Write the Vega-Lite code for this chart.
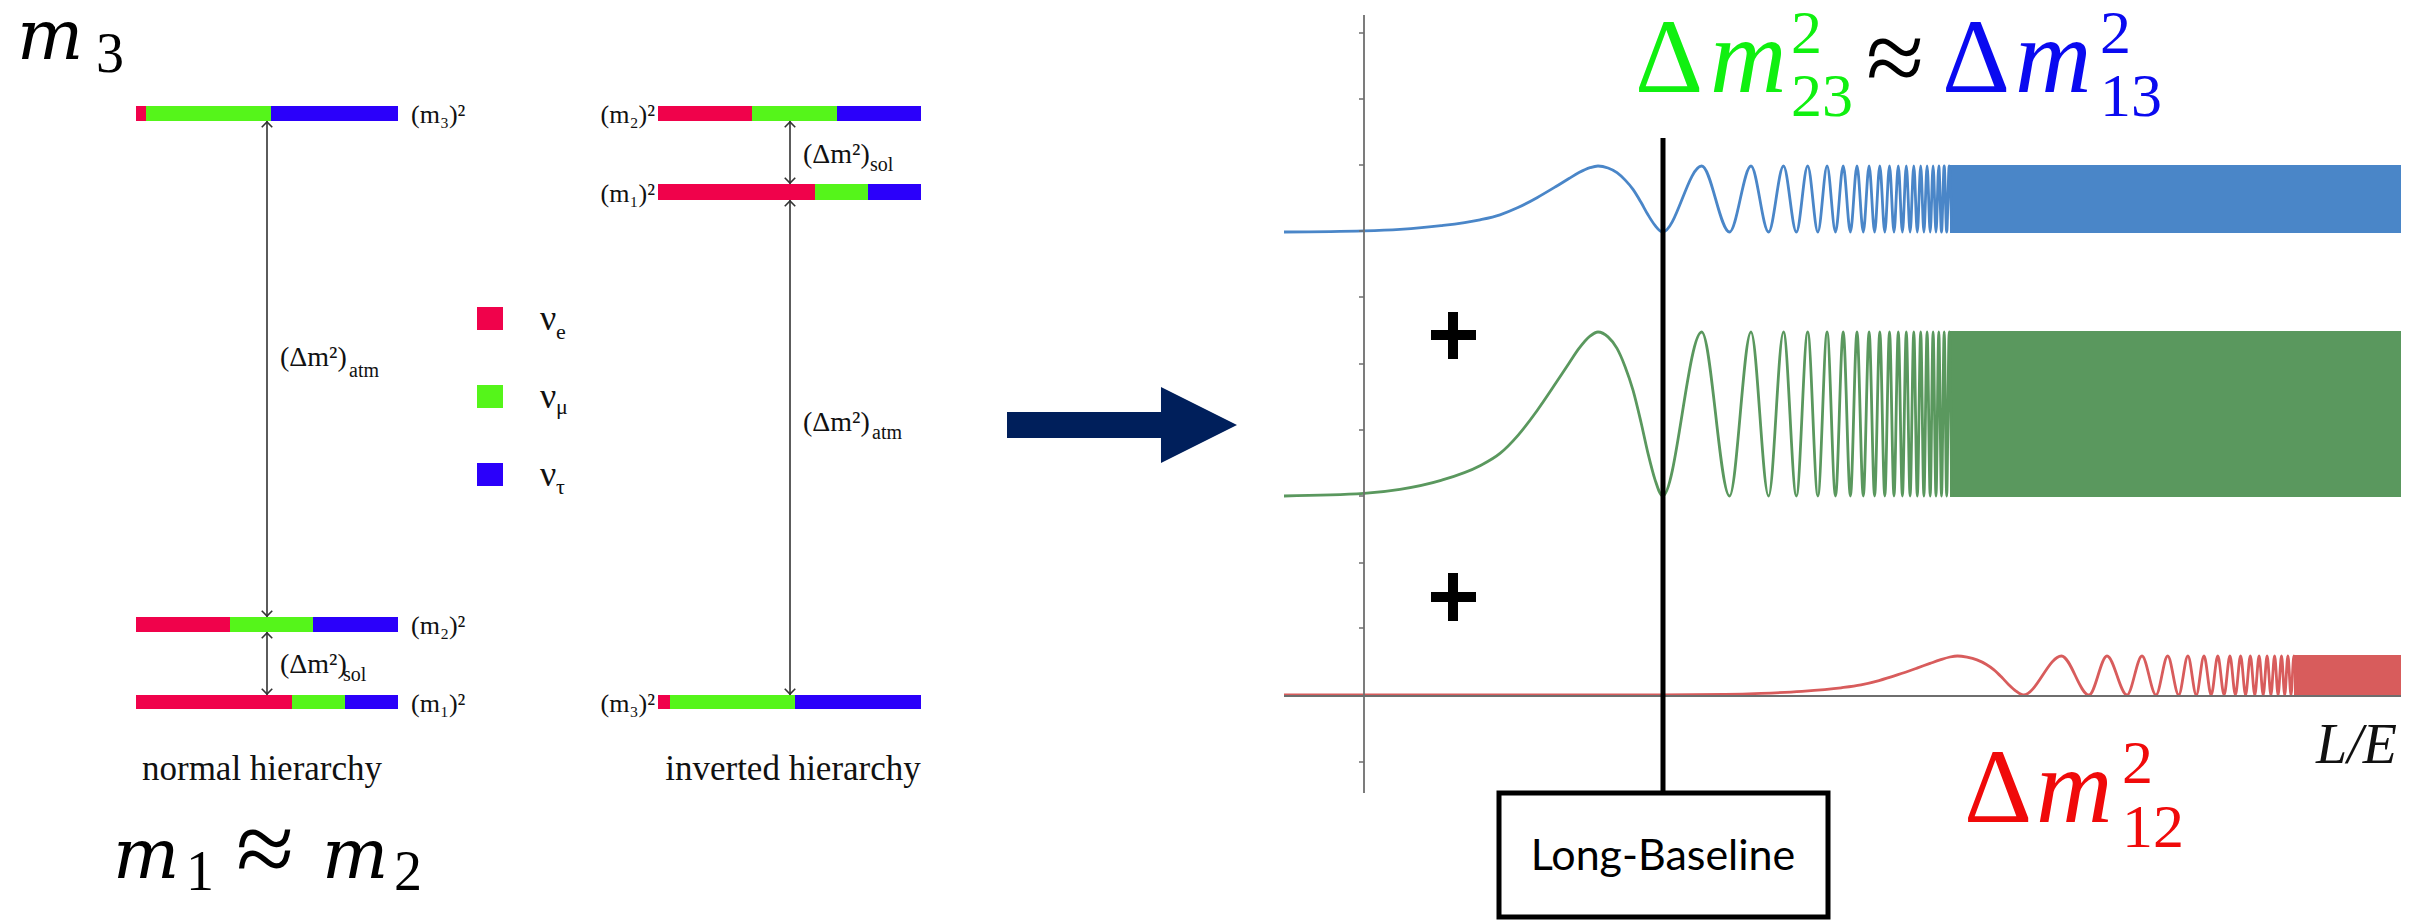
{
"$schema":"https://vega.github.io/schema/vega-lite/v6.json",
"width":2420,"height":922,"padding":0,
"autosize":{"type":"fit","contains":"padding"},
"background":"white",
"config":{"view":{"stroke":null}},
"datasets":{
"bars":[
{"x":136,"x2":146,"y":106,"y2":121,"c":"e"},{"x":146,"x2":271,"y":106,"y2":121,"c":"mu"},{"x":271,"x2":398,"y":106,"y2":121,"c":"tau"},
{"x":136,"x2":230,"y":617,"y2":632,"c":"e"},{"x":230,"x2":313,"y":617,"y2":632,"c":"mu"},{"x":313,"x2":398,"y":617,"y2":632,"c":"tau"},
{"x":136,"x2":292,"y":695,"y2":709,"c":"e"},{"x":292,"x2":345,"y":695,"y2":709,"c":"mu"},{"x":345,"x2":398,"y":695,"y2":709,"c":"tau"},
{"x":658,"x2":752,"y":106,"y2":121,"c":"e"},{"x":752,"x2":837,"y":106,"y2":121,"c":"mu"},{"x":837,"x2":921,"y":106,"y2":121,"c":"tau"},
{"x":658,"x2":815,"y":184,"y2":200,"c":"e"},{"x":815,"x2":868,"y":184,"y2":200,"c":"mu"},{"x":868,"x2":921,"y":184,"y2":200,"c":"tau"},
{"x":658,"x2":670,"y":695,"y2":709,"c":"e"},{"x":670,"x2":795,"y":695,"y2":709,"c":"mu"},{"x":795,"x2":921,"y":695,"y2":709,"c":"tau"},
{"x":477,"x2":503,"y":307,"y2":330,"c":"e"},{"x":477,"x2":503,"y":385,"y2":408,"c":"mu"},{"x":477,"x2":503,"y":463,"y2":486,"c":"tau"}
],
"shafts":[{"x":267,"y":121,"y2":617},{"x":267,"y":632,"y2":695},{"x":790,"y":121,"y2":184},{"x":790,"y":200,"y2":695}],
"headsUp":[{"x":267,"y":122},{"x":267,"y":633},{"x":790,"y":122},{"x":790,"y":201}],
"headsDown":[{"x":267,"y":616},{"x":267,"y":694},{"x":790,"y":183},{"x":790,"y":694}],
"lvlL":[{"x":411,"y":123,"t":"(m₃)²"},{"x":411,"y":634,"t":"(m₂)²"},{"x":411,"y":712,"t":"(m₁)²"}],
"lvlR":[{"x":655,"y":123,"t":"(m₂)²"},{"x":655,"y":202,"t":"(m₁)²"},{"x":655,"y":712,"t":"(m₃)²"}],
"dm":[{"x":280,"y":366,"t":"(Δm²)"},{"x":280,"y":673,"t":"(Δm²)"},{"x":803,"y":163,"t":"(Δm²)"},{"x":803,"y":431,"t":"(Δm²)"}],
"dmSub":[{"x":349,"y":377,"t":"atm"},{"x":343,"y":681,"t":"sol"},{"x":870,"y":171,"t":"sol"},{"x":872,"y":439,"t":"atm"}],
"nu":[{"x":540,"y":330,"t":"ν"},{"x":540,"y":408,"t":"ν"},{"x":540,"y":486,"t":"ν"}],
"nuSub":[{"x":556,"y":339,"t":"e"},{"x":556,"y":414,"t":"μ"},{"x":556,"y":494,"t":"τ"}],
"caps":[{"x":262,"y":780,"t":"normal hierarchy"},{"x":793,"y":780,"t":"inverted hierarchy"}],
"mLeft":[{"x":17,"y":59,"t":"m"},{"x":113,"y":878,"t":"m"},{"x":322,"y":878,"t":"m"}],
"mLeftSub":[{"x":96,"y":72,"t":"3"},{"x":186,"y":890,"t":"1"},{"x":394,"y":890,"t":"2"}],
"bigUp":[{"x":1635,"y":92,"t":"Δ","c":"green"},{"x":1866,"y":93,"t":"≈","c":"black"},{"x":1942,"y":92,"t":"Δ","c":"blue"},{"x":1964,"y":822,"t":"Δ","c":"red"},{"x":236,"y":884,"t":"≈","c":"black"}],
"bigIt":[{"x":1710,"y":92,"t":"m","c":"green"},{"x":2015,"y":92,"t":"m","c":"blue"},{"x":2036,"y":822,"t":"m","c":"red"}],
"scripts":[{"x":1791,"y":53,"t":"2","c":"green"},{"x":1791,"y":116,"t":"23","c":"green"},{"x":2100,"y":53,"t":"2","c":"blue"},{"x":2100,"y":116,"t":"13","c":"blue"},{"x":2122,"y":783,"t":"2","c":"red"},{"x":2122,"y":847,"t":"12","c":"red"}],
"axisLines":[{"x":1364,"x2":1364,"y":15,"y2":793},{"x":1284,"x2":2401,"y":696,"y2":696}],
"yTicks":[{"x":1359,"x2":1364,"y":33},{"x":1359,"x2":1364,"y":99},{"x":1359,"x2":1364,"y":165},{"x":1359,"x2":1364,"y":231},{"x":1359,"x2":1364,"y":297},{"x":1359,"x2":1364,"y":364},{"x":1359,"x2":1364,"y":430},{"x":1359,"x2":1364,"y":496},{"x":1359,"x2":1364,"y":563},{"x":1359,"x2":1364,"y":628},{"x":1359,"x2":1364,"y":762}],
"xTicks":[{"x":1298},{"x":1430},{"x":1496},{"x":1563},{"x":1629},{"x":1695},{"x":1761},{"x":1827},{"x":1894},{"x":1960},{"x":2026},{"x":2092},{"x":2158},{"x":2224},{"x":2290},{"x":2357}],
"bands":[{"x":1950,"x2":2401,"y":165,"y2":233,"s":"cb"},{"x":1950,"x2":2401,"y":331,"y2":497,"s":"cg"},{"x":2294,"x2":2401,"y":655,"y2":696,"s":"cr"}],
"curves":[
{"s":"cb","x":1284,"y":232},{"s":"cb","x":1364,"y":230.9},{"s":"cb","x":1400,"y":229.4},{"s":"cb","x":1441,"y":225.7},{"s":"cb","x":1480,"y":219.8},{"s":"cb","x":1500,"y":214.8},{"s":"cb","x":1518,"y":207.6},{"s":"cb","x":1537,"y":197.7},{"s":"cb","x":1556,"y":186.5},{"s":"cb","x":1569,"y":178.5},{"s":"cb","x":1579,"y":172.6},{"s":"cb","x":1590,"y":167.7},{"s":"cb","x":1598,"y":166},{"s":"cb","x":1608,"y":168},{"s":"cb","x":1617,"y":172.6},{"s":"cb","x":1625,"y":179.9},{"s":"cb","x":1633,"y":189.4},{"s":"cb","x":1641,"y":202.3},{"s":"cb","x":1648,"y":214.8},{"s":"cb","x":1655,"y":225.4},{"s":"cb","x":1662.6,"y":232},
{"s":"cb","x":1701.7,"y":166},{"s":"cb","x":1729.5,"y":232},{"s":"cb","x":1751,"y":166},{"s":"cb","x":1768.6,"y":232},{"s":"cb","x":1783.5,"y":166},{"s":"cb","x":1796.4,"y":232},{"s":"cb","x":1807.7,"y":166},{"s":"cb","x":1817.9,"y":232},{"s":"cb","x":1827.1,"y":166},{"s":"cb","x":1835.5,"y":232},{"s":"cb","x":1843.2,"y":166},{"s":"cb","x":1850.4,"y":232},{"s":"cb","x":1857,"y":166},{"s":"cb","x":1863.3,"y":232},{"s":"cb","x":1869.1,"y":166},{"s":"cb","x":1874.6,"y":232},{"s":"cb","x":1879.8,"y":166},{"s":"cb","x":1884.8,"y":232},{"s":"cb","x":1889.5,"y":166},{"s":"cb","x":1894,"y":232},{"s":"cb","x":1898.3,"y":166},{"s":"cb","x":1902.4,"y":232},{"s":"cb","x":1906.3,"y":166},{"s":"cb","x":1910.1,"y":232},{"s":"cb","x":1913.8,"y":166},{"s":"cb","x":1917.3,"y":232},{"s":"cb","x":1920.7,"y":166},{"s":"cb","x":1923.9,"y":232},{"s":"cb","x":1927.1,"y":166},{"s":"cb","x":1930.2,"y":232},{"s":"cb","x":1933.1,"y":166},{"s":"cb","x":1936,"y":232},{"s":"cb","x":1938.8,"y":166},{"s":"cb","x":1941.5,"y":232},{"s":"cb","x":1944.2,"y":166},{"s":"cb","x":1946.7,"y":232},{"s":"cb","x":1949.2,"y":166},{"s":"cb","x":1951.7,"y":232},
{"s":"cg","x":1284,"y":496},{"s":"cg","x":1364,"y":493.4},{"s":"cg","x":1400,"y":489.4},{"s":"cg","x":1441,"y":480.4},{"s":"cg","x":1480,"y":465.7},{"s":"cg","x":1500,"y":453.4},{"s":"cg","x":1518,"y":435.3},{"s":"cg","x":1537,"y":410.7},{"s":"cg","x":1556,"y":382.8},{"s":"cg","x":1569,"y":363.2},{"s":"cg","x":1579,"y":348.4},{"s":"cg","x":1590,"y":336.1},{"s":"cg","x":1598,"y":332},{"s":"cg","x":1608,"y":336.9},{"s":"cg","x":1617,"y":348.4},{"s":"cg","x":1625,"y":366.4},{"s":"cg","x":1633,"y":390.1},{"s":"cg","x":1641,"y":422.2},{"s":"cg","x":1648,"y":453.4},{"s":"cg","x":1655,"y":479.6},{"s":"cg","x":1662.6,"y":496},
{"s":"cg","x":1701.7,"y":332},{"s":"cg","x":1729.5,"y":496},{"s":"cg","x":1751,"y":332},{"s":"cg","x":1768.6,"y":496},{"s":"cg","x":1783.5,"y":332},{"s":"cg","x":1796.4,"y":496},{"s":"cg","x":1807.7,"y":332},{"s":"cg","x":1817.9,"y":496},{"s":"cg","x":1827.1,"y":332},{"s":"cg","x":1835.5,"y":496},{"s":"cg","x":1843.2,"y":332},{"s":"cg","x":1850.4,"y":496},{"s":"cg","x":1857,"y":332},{"s":"cg","x":1863.3,"y":496},{"s":"cg","x":1869.1,"y":332},{"s":"cg","x":1874.6,"y":496},{"s":"cg","x":1879.8,"y":332},{"s":"cg","x":1884.8,"y":496},{"s":"cg","x":1889.5,"y":332},{"s":"cg","x":1894,"y":496},{"s":"cg","x":1898.3,"y":332},{"s":"cg","x":1902.4,"y":496},{"s":"cg","x":1906.3,"y":332},{"s":"cg","x":1910.1,"y":496},{"s":"cg","x":1913.8,"y":332},{"s":"cg","x":1917.3,"y":496},{"s":"cg","x":1920.7,"y":332},{"s":"cg","x":1923.9,"y":496},{"s":"cg","x":1927.1,"y":332},{"s":"cg","x":1930.2,"y":496},{"s":"cg","x":1933.1,"y":332},{"s":"cg","x":1936,"y":496},{"s":"cg","x":1938.8,"y":332},{"s":"cg","x":1941.5,"y":496},{"s":"cg","x":1944.2,"y":332},{"s":"cg","x":1946.7,"y":496},{"s":"cg","x":1949.2,"y":332},{"s":"cg","x":1951.7,"y":496},
{"s":"cr","x":1284,"y":695},{"s":"cr","x":1645,"y":695},{"s":"cr","x":1725,"y":694.4},{"s":"cr","x":1761,"y":693.4},{"s":"cr","x":1802,"y":691.3},{"s":"cr","x":1841,"y":687.8},{"s":"cr","x":1861,"y":684.9},{"s":"cr","x":1879,"y":680.6},{"s":"cr","x":1898,"y":674.7},{"s":"cr","x":1917,"y":668.1},{"s":"cr","x":1930,"y":663.4},{"s":"cr","x":1940,"y":659.9},{"s":"cr","x":1950,"y":657},{"s":"cr","x":1957.5,"y":656},{"s":"cr","x":1967,"y":657.2},{"s":"cr","x":1977,"y":659.9},{"s":"cr","x":1986,"y":664.2},{"s":"cr","x":1994,"y":669.8},{"s":"cr","x":2002,"y":677.5},{"s":"cr","x":2009,"y":684.9},{"s":"cr","x":2016,"y":691.1},{"s":"cr","x":2023.4,"y":695},
{"s":"cr","x":2061.5,"y":656},{"s":"cr","x":2089,"y":695},{"s":"cr","x":2107,"y":656},{"s":"cr","x":2127,"y":695},{"s":"cr","x":2142,"y":656},{"s":"cr","x":2156,"y":695},{"s":"cr","x":2167.7,"y":656},{"s":"cr","x":2178.7,"y":695},{"s":"cr","x":2187.9,"y":656},{"s":"cr","x":2196.3,"y":695},{"s":"cr","x":2204,"y":656},{"s":"cr","x":2211.2,"y":695},{"s":"cr","x":2217.8,"y":656},{"s":"cr","x":2224.1,"y":695},{"s":"cr","x":2229.9,"y":656},{"s":"cr","x":2235.4,"y":695},{"s":"cr","x":2240.6,"y":656},{"s":"cr","x":2245.6,"y":695},{"s":"cr","x":2250.3,"y":656},{"s":"cr","x":2254.8,"y":695},{"s":"cr","x":2259.1,"y":656},{"s":"cr","x":2263.2,"y":695},{"s":"cr","x":2267.1,"y":656},{"s":"cr","x":2270.9,"y":695},{"s":"cr","x":2274.6,"y":656},{"s":"cr","x":2278.1,"y":695},{"s":"cr","x":2281.5,"y":656},{"s":"cr","x":2284.7,"y":695},{"s":"cr","x":2287.9,"y":656},{"s":"cr","x":2291,"y":695},{"s":"cr","x":2293.9,"y":656},{"s":"cr","x":2296.8,"y":695}
],
"blackLine":[{"x":1663,"x2":1663,"y":138,"y2":793}],
"plus":[{"x":1431,"x2":1476,"y":335,"y2":335},{"x":1453,"x2":1453,"y":312,"y2":359},{"x":1431,"x2":1476,"y":597,"y2":597},{"x":1453,"x2":1453,"y":573,"y2":621}],
"box":[{"x":1499,"x2":1828,"y":793,"y2":917}],
"boxText":[{"x":1663,"y":857,"t":"Long-Baseline"}],
"le":[{"x":2397,"y":763,"t":"L/E"}],
"bigArrow":[{"x":1122,"y":425}]
},
"encoding":{
"x":{"field":"x","type":"quantitative","scale":{"domain":[0,2420],"nice":false,"zero":false},"axis":null},
"y":{"field":"y","type":"quantitative","scale":{"domain":[0,922],"nice":false,"zero":false,"reverse":true},"axis":null}
},
"layer":[
{"data":{"name":"bars"},"mark":{"type":"rect"},"encoding":{"x2":{"field":"x2"},"y2":{"field":"y2"},"color":{"field":"c","type":"nominal","legend":null,"scale":{"domain":["e","mu","tau","green","blue","red","black","cb","cg","cr"],"range":["#f0024b","#55f51a","#2b00fa","#10f010","#0a0af0","#f00a0a","#000000","#4a86c8","#5a985e","#d85c5c"]}}}},
{"data":{"name":"shafts"},"mark":{"type":"rule","color":"#333333","strokeWidth":1.6},"encoding":{"y2":{"field":"y2"}}},
{"data":{"name":"headsUp"},"mark":{"type":"point","shape":"M-1,1L0,0L1,1","size":110,"filled":false,"color":"#333333","strokeWidth":1.6,"opacity":1}},
{"data":{"name":"headsDown"},"mark":{"type":"point","shape":"M-1,-1L0,0L1,-1","size":110,"filled":false,"color":"#333333","strokeWidth":1.6,"opacity":1}},
{"data":{"name":"lvlL"},"mark":{"type":"text","align":"left","baseline":"alphabetic","font":"Liberation Serif, DejaVu Serif","fontSize":26,"color":"#111111"},"encoding":{"text":{"field":"t"}}},
{"data":{"name":"lvlR"},"mark":{"type":"text","align":"right","baseline":"alphabetic","font":"Liberation Serif, DejaVu Serif","fontSize":26,"color":"#111111"},"encoding":{"text":{"field":"t"}}},
{"data":{"name":"dm"},"mark":{"type":"text","align":"left","baseline":"alphabetic","font":"Liberation Serif, DejaVu Serif","fontSize":28,"color":"#111111"},"encoding":{"text":{"field":"t"}}},
{"data":{"name":"dmSub"},"mark":{"type":"text","align":"left","baseline":"alphabetic","font":"Liberation Serif, DejaVu Serif","fontSize":20,"color":"#111111"},"encoding":{"text":{"field":"t"}}},
{"data":{"name":"nu"},"mark":{"type":"text","align":"left","baseline":"alphabetic","font":"Liberation Serif, DejaVu Serif","fontSize":36,"color":"#111111"},"encoding":{"text":{"field":"t"}}},
{"data":{"name":"nuSub"},"mark":{"type":"text","align":"left","baseline":"alphabetic","font":"Liberation Serif, DejaVu Serif","fontSize":22,"color":"#111111"},"encoding":{"text":{"field":"t"}}},
{"data":{"name":"caps"},"mark":{"type":"text","align":"center","baseline":"alphabetic","font":"Liberation Serif","fontSize":35,"color":"#111111"},"encoding":{"text":{"field":"t"}}},
{"data":{"name":"mLeft"},"mark":{"type":"text","align":"left","baseline":"alphabetic","font":"DejaVu Serif","fontStyle":"italic","fontSize":70,"color":"#000000"},"encoding":{"text":{"field":"t"}}},
{"data":{"name":"mLeftSub"},"mark":{"type":"text","align":"left","baseline":"alphabetic","font":"Liberation Serif","fontSize":56,"color":"#000000"},"encoding":{"text":{"field":"t"}}},
{"data":{"name":"bands"},"mark":{"type":"rect"},"encoding":{"x2":{"field":"x2"},"y2":{"field":"y2"},"color":{"field":"s","type":"nominal","legend":null}}},
{"data":{"name":"curves"},"mark":{"type":"line","strokeWidth":2.8,"interpolate":"monotone"},"encoding":{"color":{"field":"s","type":"nominal","legend":null},"detail":{"field":"s"}}},
{"data":{"name":"axisLines"},"mark":{"type":"rule","color":"#6e6e6e","strokeWidth":1.8},"encoding":{"x2":{"field":"x2"},"y2":{"field":"y2"}}},
{"data":{"name":"yTicks"},"mark":{"type":"rule","color":"#6e6e6e","strokeWidth":1.5},"encoding":{"x2":{"field":"x2"}}},
{"data":{"name":"xTicks"},"mark":{"type":"tick","orient":"vertical","color":"#6e6e6e","thickness":1.5,"size":6,"yOffset":3},"encoding":{"y":{"datum":696}}},
{"data":{"name":"blackLine"},"mark":{"type":"rule","color":"#000000","strokeWidth":5},"encoding":{"x2":{"field":"x2"},"y2":{"field":"y2"}}},
{"data":{"name":"plus"},"mark":{"type":"rule","color":"#000000","strokeWidth":10},"encoding":{"x2":{"field":"x2"},"y2":{"field":"y2"}}},
{"data":{"name":"box"},"mark":{"type":"rect","fill":"#ffffff","stroke":"#000000","strokeWidth":5},"encoding":{"x2":{"field":"x2"},"y2":{"field":"y2"}}},
{"data":{"name":"boxText"},"mark":{"type":"text","align":"center","baseline":"middle","font":"Lato","fontSize":43,"color":"#000000"},"encoding":{"text":{"field":"t"}}},
{"data":{"name":"bigUp"},"mark":{"type":"text","align":"left","baseline":"alphabetic","font":"Liberation Serif","fontSize":106},"encoding":{"text":{"field":"t"},"color":{"field":"c","type":"nominal","legend":null}}},
{"data":{"name":"bigIt"},"mark":{"type":"text","align":"left","baseline":"alphabetic","font":"Liberation Serif","fontStyle":"italic","fontSize":106},"encoding":{"text":{"field":"t"},"color":{"field":"c","type":"nominal","legend":null}}},
{"data":{"name":"scripts"},"mark":{"type":"text","align":"left","baseline":"alphabetic","font":"Liberation Serif","fontSize":62},"encoding":{"text":{"field":"t"},"color":{"field":"c","type":"nominal","legend":null}}},
{"data":{"name":"le"},"mark":{"type":"text","align":"right","baseline":"alphabetic","font":"Liberation Serif","fontStyle":"italic","fontSize":56,"color":"#111111"},"encoding":{"text":{"field":"t"}}},
{"data":{"name":"bigArrow"},"mark":{"type":"point","shape":"M-1,-0.113L0.339,-0.113L0.339,-0.33L1,0L0.339,0.33L0.339,0.113L-1,0.113Z","size":52900,"filled":true,"color":"#001f5b","opacity":1,"strokeWidth":0}}
]
}
